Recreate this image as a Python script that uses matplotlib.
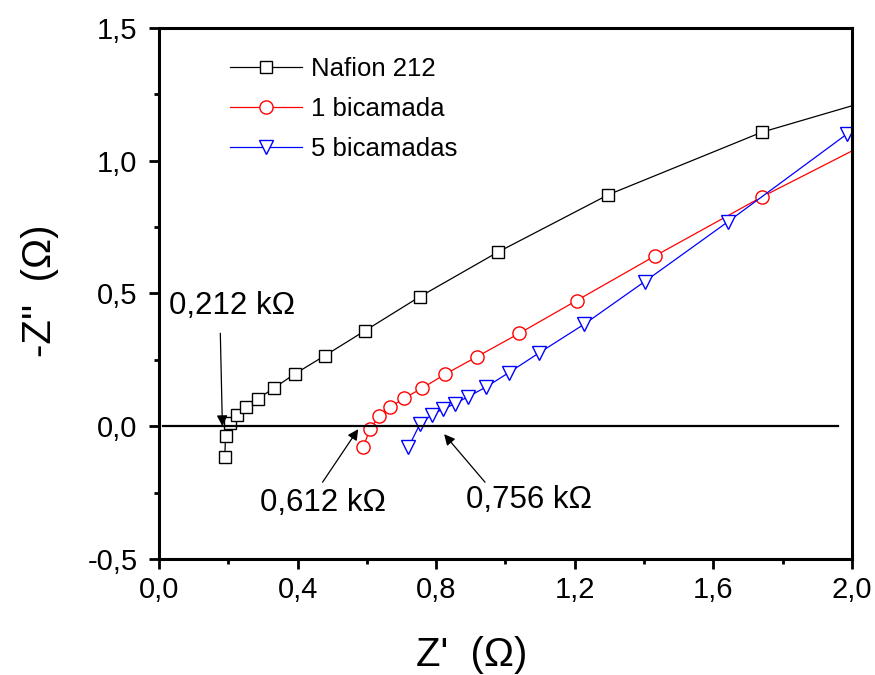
# -*- coding: utf-8 -*-
"""
 Diagrama de Nyquist - Nafion 212 e bicamadas
"""
import matplotlib
matplotlib.use("Agg")
import matplotlib.pyplot as plt
from matplotlib.ticker import MultipleLocator, FuncFormatter

plt.rcParams["font.family"] = ["Liberation Sans", "DejaVu Sans"]

# Nafion 212
x_naf = [0.190, 0.192, 0.205, 0.224, 0.251, 0.285, 0.331, 0.392, 0.479,
         0.595, 0.753, 0.977, 1.297, 1.739, 2.27]
y_naf = [-0.117, -0.035, 0.012, 0.044, 0.074, 0.103, 0.143, 0.197, 0.266,
         0.360, 0.488, 0.655, 0.872, 1.107, 1.31]
# 1 bicamada
x_1b = [0.590, 0.609, 0.636, 0.667, 0.707, 0.759, 0.826, 0.918, 1.040,
        1.205, 1.431, 1.739, 2.08]
y_1b = [-0.077, -0.010, 0.039, 0.072, 0.105, 0.143, 0.196, 0.262, 0.350,
        0.473, 0.641, 0.863, 1.09]
# 5 bicamadas
x_5b = [0.720, 0.753, 0.787, 0.820, 0.853, 0.892, 0.943, 1.010, 1.098,
        1.227, 1.402, 1.643, 1.986]
y_5b = [-0.079, 0.008, 0.043, 0.065, 0.084, 0.111, 0.147, 0.202, 0.277,
        0.384, 0.545, 0.771, 1.101]

labels = ["Nafion 212", "1 bicamada", "5 bicamadas"]

fig = plt.figure(figsize=(8.75, 6.75), dpi=100)
ax = fig.add_axes([0.1817, 0.1719, 0.792, 0.7867])

ax.plot(x_naf, y_naf, "-s", color="k", lw=0.9, ms=8, mfc="white",
        mec="k", mew=1.0, label=labels[0])
ax.plot(x_1b, y_1b, "-o", color="r", lw=0.9, ms=9.5, mfc="white",
        mec="r", mew=1.0, label=labels[1])
ax.plot(x_5b, y_5b, "-v", color="b", lw=0.9, ms=10, mfc="white",
        mec="b", mew=1.0, label=labels[2])

# linha do zero
ax.plot([0.012, 1.96], [0, 0], color="k", lw=1.6)

ax.set_xlim(0, 2.0)
ax.set_ylim(-0.5, 1.5)
ax.xaxis.set_major_locator(MultipleLocator(0.4))
ax.xaxis.set_minor_locator(MultipleLocator(0.2))
ax.yaxis.set_major_locator(MultipleLocator(0.5))
ax.yaxis.set_minor_locator(MultipleLocator(0.25))
virg = FuncFormatter(lambda v, p: ("%.1f" % v).replace(".", ","))
ax.xaxis.set_major_formatter(virg)
ax.yaxis.set_major_formatter(virg)

for s in ax.spines.values():
    s.set_linewidth(2.2)
ax.tick_params(which="major", direction="out", length=7.5, width=2,
               labelsize=21, top=False, right=False)
ax.tick_params(which="minor", direction="out", length=3.5, width=2,
               top=False, right=False)
ax.tick_params(axis="x", pad=5)
ax.tick_params(axis="y", pad=8)

fig.text(0.539, 0.030, u"Z'  (\u03a9)", fontsize=29, ha="center", va="center")
fig.text(0.046, 0.57, u"-Z''  (\u03a9)", fontsize=29, ha="center",
         va="center", rotation=90)

ax.legend(loc="upper left", bbox_to_anchor=(0.1025, 0.945), frameon=False,
          fontsize=18.5, borderpad=0, borderaxespad=0, handlelength=2.8,
          handletextpad=0.35, labelspacing=0.62)

seta = dict(arrowstyle="-|>", color="k", lw=0.9, mutation_scale=16,
            shrinkA=0, shrinkB=0)
ax.annotate("", xy=(0.183, 0.0), xytext=(0.177, 0.35), arrowprops=seta)
ax.text(0.212, 0.452, u"0,212 k\u03a9", fontsize=22.5, ha="center",
        va="center")
ax.annotate("", xy=(0.575, -0.011), xytext=(0.472, -0.211), arrowprops=seta)
ax.text(0.472, -0.290, u"0,612 k\u03a9", fontsize=22.5, ha="center",
        va="center")
ax.annotate("", xy=(0.823, -0.030), xytext=(0.941, -0.211), arrowprops=seta)
ax.text(1.068, -0.278, u"0,756 k\u03a9", fontsize=22.5, ha="center",
        va="center")

plt.savefig("out.png", dpi=100)
